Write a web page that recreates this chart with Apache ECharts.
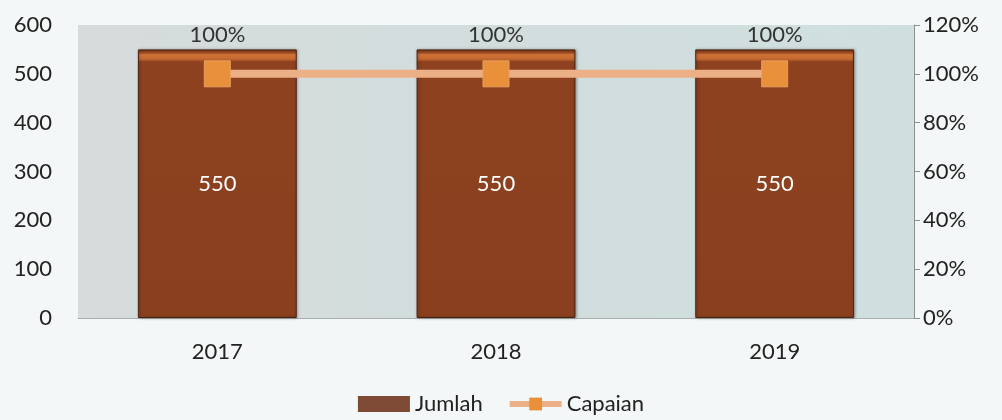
<!DOCTYPE html>
<html>
<head>
<meta charset="utf-8">
<script src="https://cdn.jsdelivr.net/npm/echarts@6/dist/echarts.min.js"></script>
<style>
  html, body { margin: 0; padding: 0; background: #f4f7f7; }
  #chart { width: 1002px; height: 420px; }
</style>
</head>
<body>
<div id="chart"></div>
<script>
// Jumlah (count) per year and Capaian (achievement, %)
const years = ['2017', '2018', '2019'];
const jumlah = [550, 550, 550];
const capaian = [100, 100, 100];

const FONT = 'Lato, "Open Sans", sans-serif';
const FS = 22;
const chart = echarts.init(document.getElementById('chart'));

// brown bar with a lighter bevel strip near the top
const barFill = new echarts.graphic.LinearGradient(0, 0, 0, 1, [
  { offset: 0, color: '#7e3a1b' },
  { offset: 0.012, color: '#9a4a22' },
  { offset: 0.02, color: '#cf7338' },
  { offset: 0.036, color: '#c4682f' },
  { offset: 0.046, color: '#8d411f' },
  { offset: 1, color: '#8a401f' }
]);

chart.setOption({
  backgroundColor: '#f4f7f7',
  textStyle: { fontFamily: FONT },
  grid: {
    left: 78, right: 88, top: 25, bottom: 102,
    show: true,
    borderWidth: 0,
    backgroundColor: new echarts.graphic.LinearGradient(0, 0, 1, 0, [
      { offset: 0, color: '#d6dbdb' },
      { offset: 1, color: '#cfdfdf' }
    ])
  },
  legend: {
    bottom: 0,
    left: 'center',
    itemWidth: 52,
    itemHeight: 16,
    itemGap: 24,
    textStyle: { fontFamily: FONT, fontSize: FS, color: '#222' },
    data: [
      { name: 'Jumlah', icon: 'rect', itemStyle: { color: '#7d4a36', borderWidth: 0, shadowBlur: 0 } },
      {
        name: 'Capaian',
        itemStyle: { color: '#e8903a', borderWidth: 0 },
        lineStyle: { color: '#ebb086', width: 6 }
      }
    ]
  },
  xAxis: {
    type: 'category',
    data: years,
    axisLine: { lineStyle: { color: '#a8adad', width: 1 } },
    axisTick: { show: false },
    axisLabel: { fontFamily: FONT, fontSize: FS, color: '#222', margin: 23 }
  },
  yAxis: [
    {
      type: 'value', min: 0, max: 600, interval: 100,
      axisLine: { show: false }, axisTick: { show: false },
      splitLine: { show: false },
      axisLabel: { fontFamily: FONT, fontSize: FS, color: '#222', margin: 26 }
    },
    {
      type: 'value', min: 0, max: 120, interval: 20,
      position: 'right',
      axisLine: { show: true, lineStyle: { color: '#8a8f8f' } },
      axisTick: { show: true, inside: false, length: 6, lineStyle: { color: '#8a8f8f' } },
      splitLine: { show: false },
      axisLabel: { fontFamily: FONT, fontSize: FS, color: '#222', margin: 9, formatter: '{value}%' }
    }
  ],
  series: [
    {
      name: 'Jumlah',
      type: 'bar',
      data: jumlah,
      barWidth: '57%',
      itemStyle: {
        color: barFill,
        borderColor: '#4a2210',
        borderWidth: 1,
        shadowColor: 'rgba(0,0,0,0.35)',
        shadowBlur: 3,
        shadowOffsetX: 1
      },
      label: {
        show: true, position: 'inside',
        color: '#ffffff', fontFamily: FONT, fontSize: FS
      }
    },
    {
      name: 'Capaian',
      type: 'line',
      yAxisIndex: 1,
      data: capaian,
      symbol: 'rect',
      symbolSize: 26,
      lineStyle: { color: '#ebb086', width: 8 },
      itemStyle: { color: '#e8903a', borderColor: '#e8a060', borderWidth: 1 },
      label: {
        show: true, position: 'top', distance: 14,
        formatter: '{c}%',
        color: '#333', fontFamily: FONT, fontSize: FS
      }
    }
  ]
});
</script>
</body>
</html>
